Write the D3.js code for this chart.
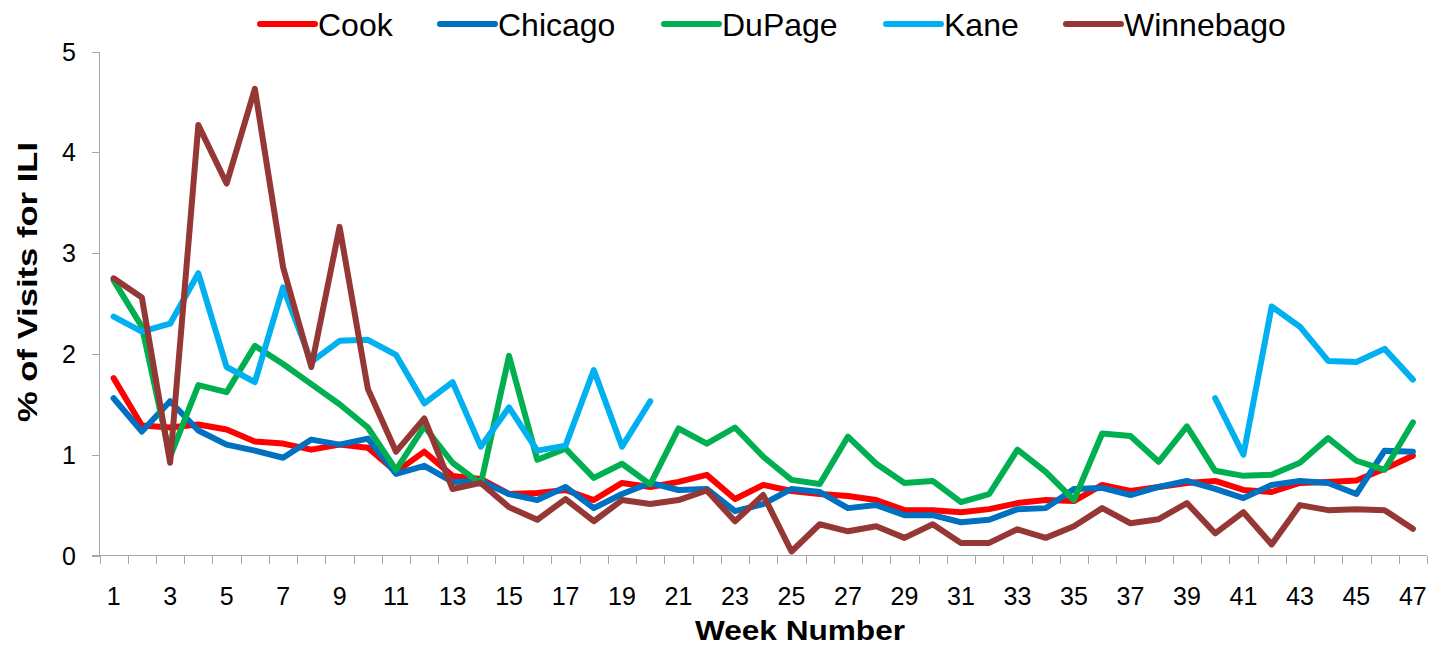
<!DOCTYPE html>
<meta charset="utf-8">
<style>
body{ margin:0; background:#fff; }
text{ font-family:"Liberation Sans", Arial, sans-serif; fill:#000; }
.tick-label{ font-size:25px; }
.legend text{ font-size:32px; }
.title{ font-weight:bold; font-size:27px; }
.axis-line{ stroke:#a6a6a6; stroke-width:1.5px; shape-rendering:crispEdges; }
.series{ fill:none; stroke-width:6px; stroke-linejoin:round; stroke-linecap:round; }
</style>
<body>
<script src="https://d3js.org/d3.v7.min.js"></script>
<script>

var weeks = d3.range(1, 48);
var yTicks = [0, 1, 2, 3, 4, 5];

var cook = [1.76,1.29,1.27,1.30,1.25,1.13,1.11,1.05,1.10,1.07,0.83,1.03,0.79,0.76,0.61,0.62,0.65,0.55,0.72,0.68,
	0.73,0.80,0.56,0.70,0.64,0.61,0.59,0.55,0.45,0.45,0.43,0.46,0.52,0.55,0.54,0.70,0.64,0.68,0.72,0.74,
	0.65,0.63,0.72,0.73,0.745,0.86,0.99];
var chicago = [1.56,1.23,1.53,1.24,1.10,1.04,0.97,1.15,1.10,1.16,0.81,0.89,0.73,0.74,0.61,0.55,0.68,0.47,0.61,0.72,
	0.65,0.66,0.44,0.51,0.66,0.63,0.47,0.50,0.40,0.40,0.33,0.355,0.46,0.47,0.66,0.67,0.60,0.68,0.74,0.66,
	0.57,0.70,0.74,0.72,0.61,1.04,1.03];
var dupage = [2.73,2.27,0.98,1.69,1.62,2.08,1.90,1.70,1.50,1.27,0.85,1.28,0.92,0.71,1.98,0.95,1.06,0.77,0.91,0.705,
	1.26,1.11,1.27,0.98,0.75,0.71,1.18,0.91,0.72,0.74,0.53,0.61,1.05,0.83,0.55,1.21,1.185,0.93,1.28,0.84,
	0.79,0.80,0.92,1.165,0.94,0.85,1.32];
var kane = [2.37,2.22,2.30,2.80,1.87,1.72,2.66,1.92,2.13,2.14,1.99,1.51,1.72,1.08,1.47,1.04,1.09,1.84,1.08,1.53,
	null,null,null,null,null,null,null,null,null,null,null,null,null,null,null,null,null,null,null,1.56,
	1.00,2.47,2.27,1.93,1.92,2.05,1.745];
var winnebago = [2.75,2.56,0.92,4.27,3.69,4.63,2.86,1.87,3.26,1.655,1.03,1.36,0.66,0.72,0.48,0.355,0.56,0.34,0.55,0.51,
	0.55,0.645,0.34,0.60,0.04,0.31,0.24,0.29,0.175,0.31,0.125,0.125,0.26,0.175,0.29,0.47,0.32,0.36,0.52,0.22,
	0.43,0.11,0.50,0.45,0.46,0.45,0.265];

var seriesNames = ["Cook", "Chicago", "DuPage", "Kane", "Winnebago"];
var seriesValues = [cook, chicago, dupage, kane, winnebago];
var color = {Cook:"#FF0000", Chicago:"#0070C0", DuPage:"#00B050", Kane:"#00B0F0", Winnebago:"#953735"};

var W = 1442, H = 650;
var plotL = 99.5, plotR = 1427, plotT = 51.5, plotB = 555.5;

var svg = d3.select("body").append("svg").attr("width", W).attr("height", H);

var x = d3.scaleBand().domain(weeks).range([plotL, plotR]);
var y = d3.scaleLinear().domain([0, 5]).range([plotB, plotT]);
var cx = d => x(d) + x.bandwidth() / 2;

// axes
svg.append("line").attr("class","axis-line")
	.attr("x1", plotL).attr("x2", plotL).attr("y1", plotT).attr("y2", plotB);
svg.append("line").attr("class","axis-line")
	.attr("x1", plotL - 8).attr("x2", plotR).attr("y1", plotB).attr("y2", plotB);

svg.selectAll(".ytick").data(yTicks).enter().append("line").attr("class","axis-line")
	.attr("x1", plotL - 8).attr("x2", plotL)
	.attr("y1", d => Math.round(y(d)) + 0.5).attr("y2", d => Math.round(y(d)) + 0.5);

svg.selectAll(".ylab").data(yTicks).enter().append("text").attr("class","tick-label")
	.attr("x", 76).attr("y", d => y(d) + 9)
	.attr("text-anchor", "end")
	.text(d => d);

var bounds = weeks.map(d => x(d)).concat([plotR]);
svg.selectAll(".xtick").data(bounds).enter().append("line").attr("class","axis-line")
	.attr("x1", d => Math.round(d) + 0.5).attr("x2", d => Math.round(d) + 0.5)
	.attr("y1", plotB).attr("y2", plotB + 8);

svg.selectAll(".xlab").data(weeks.filter(d => d % 2 == 1)).enter().append("text").attr("class","tick-label")
	.attr("x", d => cx(d)).attr("y", 605)
	.attr("text-anchor", "middle")
	.text(d => d);

// titles
svg.append("text").attr("class","title")
	.attr("x", 800).attr("y", 640)
	.attr("text-anchor","middle")
	.attr("textLength", 210).attr("lengthAdjust","spacingAndGlyphs")
	.text("Week Number");

svg.append("text").attr("class","title")
	.attr("transform","translate(37,282) rotate(-90)")
	.attr("text-anchor","middle")
	.attr("textLength", 280).attr("lengthAdjust","spacingAndGlyphs")
	.text("% of Visits for ILI");

// series
var line = d3.line()
	.defined(d => d.v != null)
	.x(d => cx(d.w))
	.y(d => y(d.v));

seriesNames.forEach(function(name, i){
	var pts = weeks.map((w, j) => ({w: w, v: seriesValues[i][j]}));
	svg.append("path").attr("class","series")
		.attr("d", line(pts))
		.style("stroke", color[name]);
});

// legend
var legendX = [260, 440, 664, 886, 1066];
var lg = svg.append("g").attr("class","legend");
seriesNames.forEach(function(name, i){
	lg.append("line")
		.attr("x1", legendX[i]).attr("x2", legendX[i] + 55)
		.attr("y1", 24).attr("y2", 24)
		.style("stroke", color[name]).style("stroke-width", 6).style("stroke-linecap","round");
	lg.append("text")
		.attr("x", legendX[i] + 58).attr("y", 36)
		.text(name);
});
</script>
</body>
</html>
